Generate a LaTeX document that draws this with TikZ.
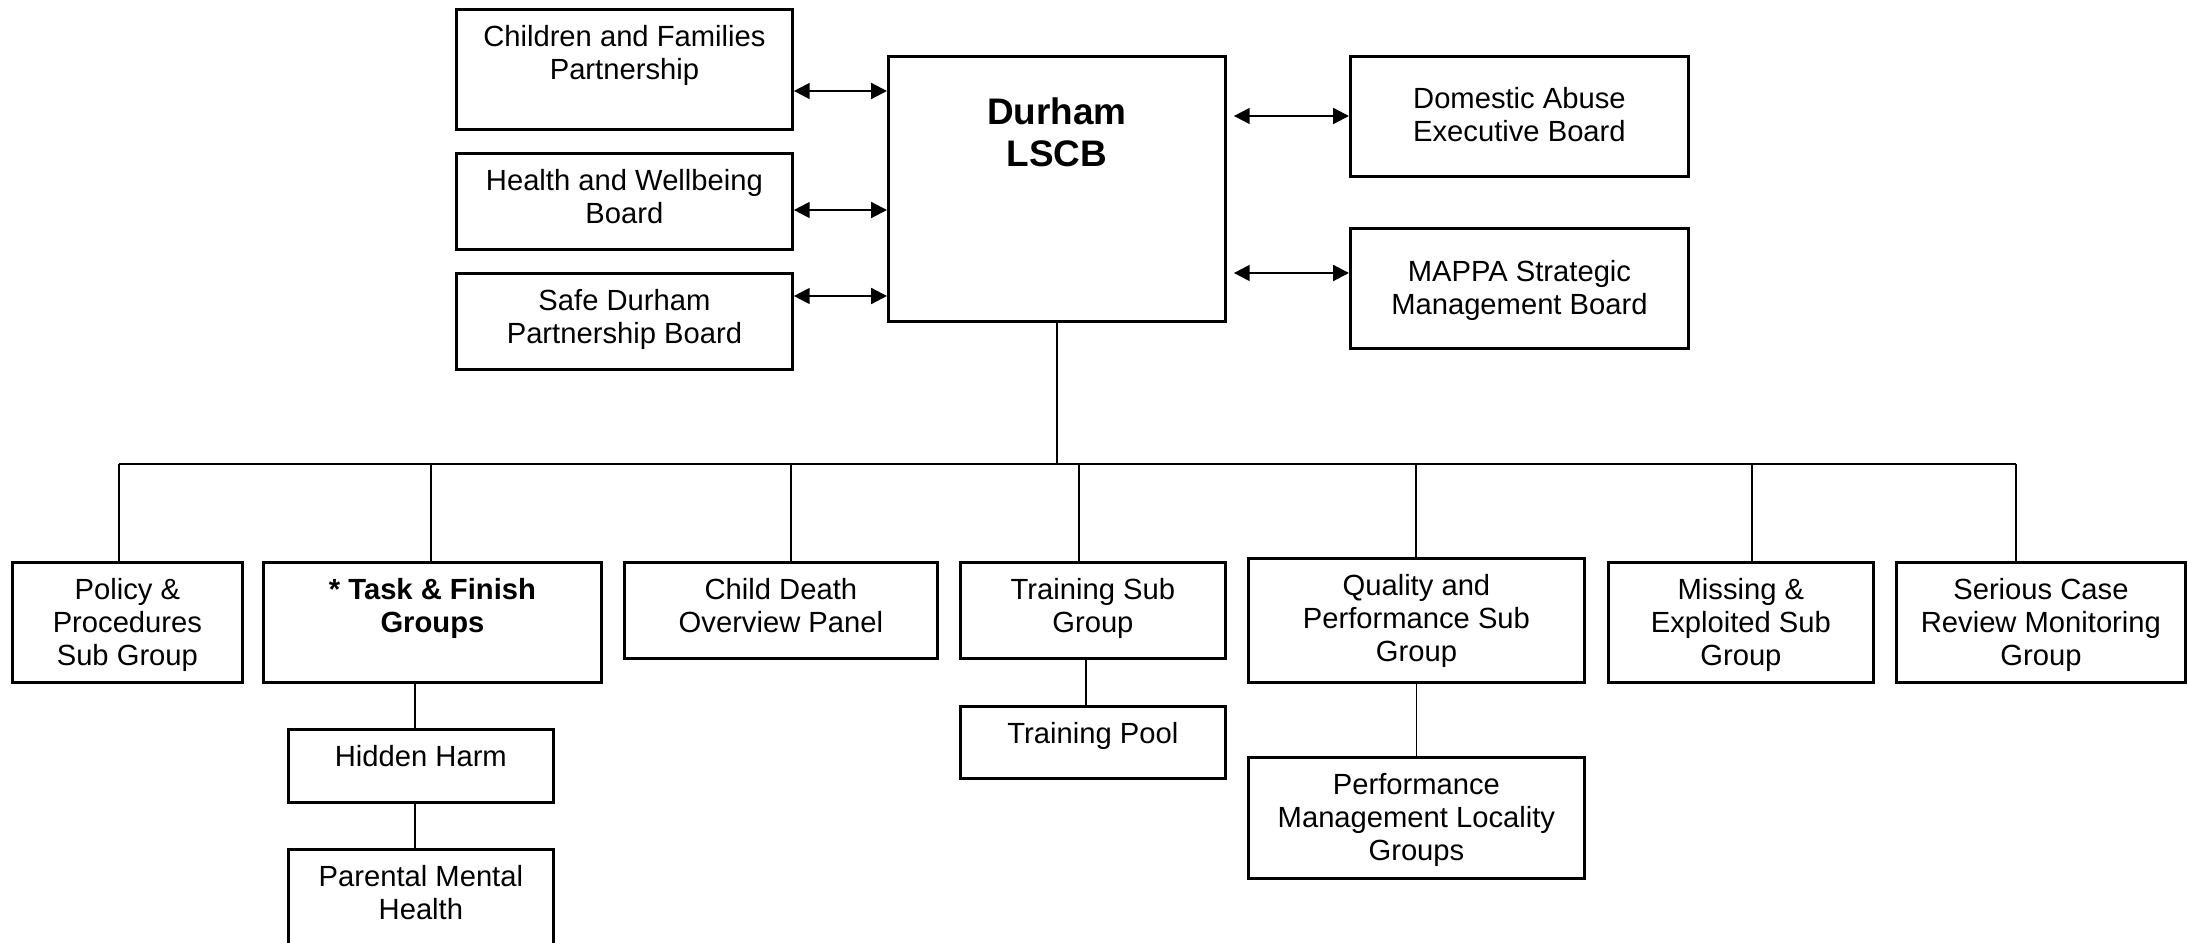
\documentclass[tikz,border=0pt]{standalone}
\usepackage{fontspec}
\setmainfont{Liberation Sans}
\usetikzlibrary{arrows.meta}

\newcommand{\orgbox}[4][10.5pt]{\parbox[t][#3][t]{#2}{\centering\rule{0pt}{#1}#4}}

\begin{document}
\begin{tikzpicture}[x=0.01cm, y=-0.01cm,
  box/.style={draw, line width=0.75pt, anchor=north west, inner sep=0pt,
    font=\fontsize{8.3}{9.4}\selectfont},
  line/.style={line width=0.5pt},
  twoway/.style={line width=0.6pt,
    {Triangle[length=4.5pt,width=4.5pt]}-{Triangle[length=4.5pt,width=4.5pt]}}]
  \clip (0,0) rectangle (2188,943);

  % board
  \node[box, font=\fontsize{10.5}{12}\selectfont\bfseries] (lscb) at (887,55)
    {\orgbox[19.3pt]{3.37cm}{2.65cm}{Durham\\LSCB}};

  % partners on the left
  \node[box] (cfp) at (455,8) {\orgbox{3.36cm}{1.20cm}{Children and Families\\Partnership}};
  \node[box] (hwb) at (455,152) {\orgbox{3.36cm}{0.96cm}{Health and Wellbeing\\Board}};
  \node[box] (sdpb) at (455,272) {\orgbox{3.36cm}{0.96cm}{Safe Durham\\Partnership Board}};

  % partners on the right
  \node[box] (daeb) at (1349,55) {\orgbox[14.8pt]{3.38cm}{1.20cm}{Domestic Abuse\\Executive Board}};
  \node[box] (mappa) at (1349,227) {\orgbox[15pt]{3.38cm}{1.20cm}{MAPPA Strategic\\Management Board}};

  % links to partners
  \draw[twoway] (cfp.east |- 0,91) -- (lscb.west |- 0,91);
  \draw[twoway] (hwb.east |- 0,210) -- (lscb.west |- 0,210);
  \draw[twoway] (sdpb.east |- 0,296) -- (lscb.west |- 0,296);
  \draw[twoway, shorten <=2pt] (lscb.east |- 0,116) -- (daeb.west |- 0,116);
  \draw[twoway, shorten <=2pt] (lscb.east |- 0,273) -- (mappa.west |- 0,273);

  % sub groups
  \node[box] (policy) at (11,561) {\orgbox{2.30cm}{1.20cm}{Policy \&\\Procedures\\Sub Group}};
  \node[box] (task) at (262,561) {\orgbox{3.38cm}{1.20cm}{\textbf{* Task \& Finish}\\\textbf{Groups}}};
  \node[box] (cdop) at (623,561) {\orgbox{3.13cm}{0.96cm}{Child Death\\Overview Panel}};
  \node[box] (training) at (959,561) {\orgbox{2.65cm}{0.96cm}{Training Sub\\Group}};
  \node[box] (quality) at (1247,557) {\orgbox{3.36cm}{1.24cm}{Quality and\\Performance Sub\\Group}};
  \node[box] (missing) at (1607,561) {\orgbox{2.65cm}{1.20cm}{Missing \&\\Exploited Sub\\Group}};
  \node[box] (serious) at (1895,561) {\orgbox{2.89cm}{1.20cm}{Serious Case\\Review Monitoring\\Group}};

  % lower groups
  \node[box] (hidden) at (287,728) {\orgbox{2.65cm}{0.73cm}{Hidden Harm}};
  \node[box] (parental) at (287,848) {\orgbox{2.65cm}{1.20cm}{Parental Mental\\Health}};
  \node[box] (pool) at (959,705) {\orgbox{2.65cm}{0.72cm}{Training Pool}};
  \node[box] (pmlg) at (1247,756) {\orgbox{3.36cm}{1.21cm}{Performance\\Management Locality\\Groups}};

  % tree
  \coordinate (busL) at (119,464);
  \coordinate (busR) at (2016,464);
  \draw[line] (lscb.south) -- (lscb.south |- busL);
  \draw[line] (busL) -- (busR);
  \foreach \x/\n in {119/policy, 431/task, 791/cdop, 1079/training,
                     1416/quality, 1752/missing, 2016/serious} {
    \draw[line] (\x,464) -- (\n.north -| \x,0);
  }
  \draw[line] (task.south -| 415,0) -- (hidden.north -| 415,0);
  \draw[line] (hidden.south -| 415,0) -- (parental.north -| 415,0);
  \draw[line] (training.south -| 1086,0) -- (pool.north -| 1086,0);
  \draw[line] (quality.south) -- (pmlg.north);
\end{tikzpicture}
\end{document}
